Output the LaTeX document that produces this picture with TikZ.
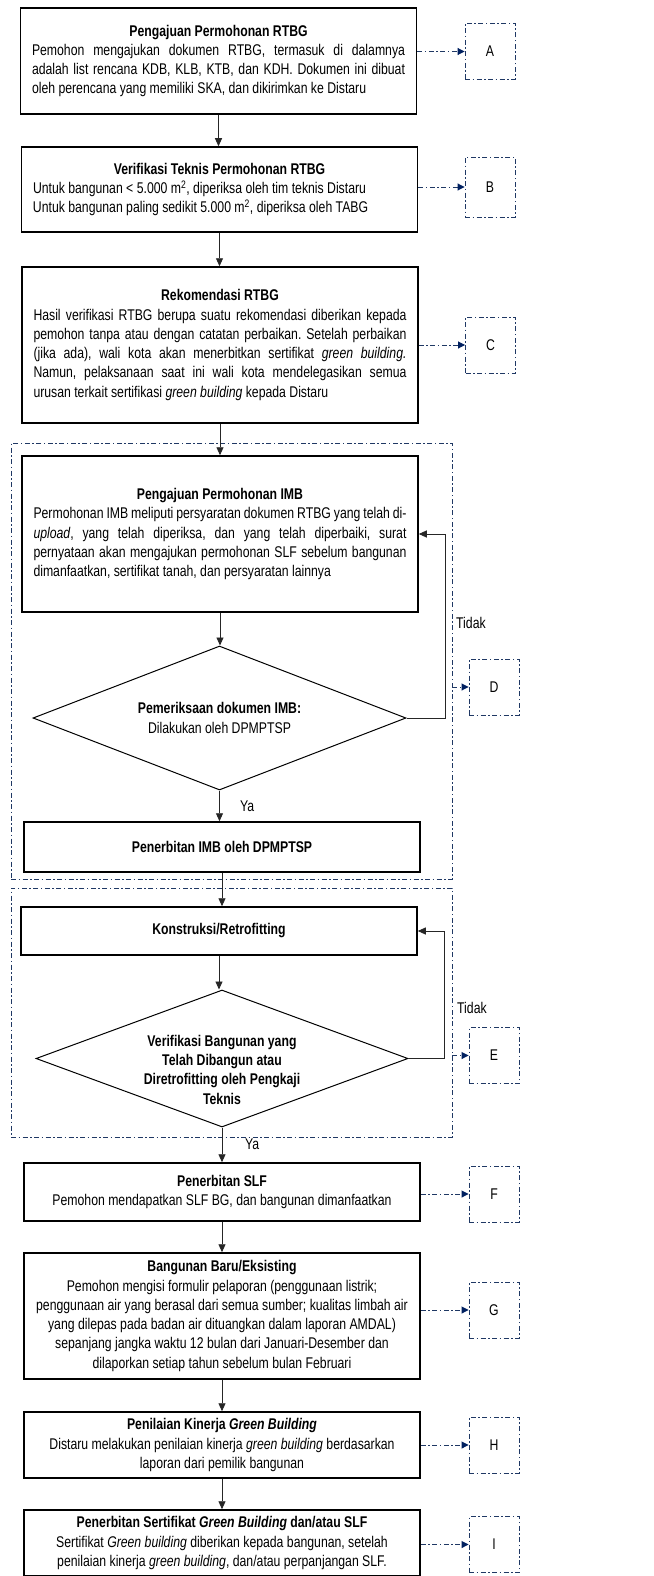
\documentclass[tikz,border=0pt]{standalone}
\usepackage{fontspec}
\setmainfont{Liberation Sans}[FakeStretch=0.79]
\usetikzlibrary{shapes.geometric,arrows.meta}
\definecolor{navy}{RGB}{31,56,100}
\definecolor{navytip}{RGB}{0,32,96}
\setlength{\parindent}{0pt}
\frenchspacing
\tikzset{
  txt/.style={font=\fontsize{15.5}{19.3}\selectfont},
  navydash/.style={dash pattern=on 5pt off 2.5pt on 1.5pt off 2.5pt},
  box/.style={txt, draw=black, line width=1.5pt, fill=white, inner xsep=11.5pt, inner ysep=0pt, text width=373pt, minimum width=396pt},
  dia/.style={diamond, draw=black, line width=1pt, fill=white, inner sep=0pt},
  sbox/.style={txt, draw=navy, line width=0.9pt, navydash, minimum width=50pt, minimum height=56pt, inner sep=0pt},
  cont/.style={draw=navy, line width=0.9pt, navydash, inner sep=0pt},
  arr/.style={draw=black!85, line width=0.9pt, -{Triangle[length=8pt,width=7pt]}},
  narr/.style={draw=navy, line width=0.9pt, navydash, -{Triangle[length=7pt,width=7pt,fill=navytip,color=navytip]}},
  lbl/.style={txt, inner sep=0pt, anchor=west},
}
\begin{document}
\begin{tikzpicture}[x=1pt,y=-1pt]
\useasboundingbox (0,0) rectangle (653,1576);

% containers
\node[cont, minimum width=441pt, minimum height=436pt] (c1) at (231.5,661) {};
\node[cont, minimum width=441pt, minimum height=249pt] (c2) at (231.5,1012.5) {};

% main boxes
\node[box, align=justify, minimum height=106pt] (b1) at (218.5,61) {{\centering\bfseries Pengajuan Permohonan RTBG\par}Pemohon mengajukan dokumen RTBG, termasuk di dalamnya \linebreak adalah list rencana KDB, KLB, KTB, dan KDH. Dokumen ini dibuat \linebreak oleh perencana yang memiliki SKA, dan dikirimkan ke Distaru};

\node[box, align=flush left, minimum height=85pt] (b2) at (219.5,189.5) {{\centering\bfseries Verifikasi Teknis Permohonan RTBG\par}Untuk bangunan < 5.000 m\textsuperscript{2}, diperiksa oleh tim teknis Distaru\\Untuk bangunan paling sedikit 5.000 m\textsuperscript{2}, diperiksa oleh TABG};

\node[box, align=justify, minimum height=156pt] (b3) at (220,345) {{\centering\bfseries Rekomendasi RTBG\par}Hasil verifikasi RTBG berupa suatu rekomendasi diberikan kepada \linebreak pemohon tanpa atau dengan catatan perbaikan. Setelah perbaikan \linebreak (jika ada), wali kota akan menerbitkan sertifikat \textit{green building.} \linebreak Namun, pelaksanaan saat ini wali kota mendelegasikan semua \linebreak urusan terkait sertifikasi \textit{green building} kepada Distaru};

\node[box, align=justify, minimum height=156pt] (b4) at (220,534) {{\centering\bfseries Pengajuan Permohonan IMB\par}Permohonan IMB meliputi persyaratan dokumen RTBG yang telah di-\linebreak \textit{upload}, yang telah diperiksa, dan yang telah diperbaiki, surat \linebreak pernyataan akan mengajukan permohonan SLF sebelum bangunan \linebreak dimanfaatkan, sertifikat tanah, dan persyaratan lainnya};

\node[dia, minimum width=373pt, minimum height=144pt] (d1) at (219.5,718) {};
\node[txt, align=flush center, inner sep=0pt] (d1t) at (d1.center) {\textbf{Pemeriksaan dokumen IMB:}\\Dilakukan oleh DPMPTSP};

\node[box, align=flush center, minimum height=50pt] (b5) at (222,847) {\bfseries Penerbitan IMB oleh DPMPTSP};

\node[box, align=flush center, minimum height=48pt] (b6) at (219,931) {\bfseries Konstruksi/Retrofitting};

\node[dia, minimum width=372pt, minimum height=137pt] (d2) at (222,1058.5) {};
\node[txt, align=flush center, inner sep=0pt] (d2t) at ([yshift=-11pt]d2.center) {\bfseries Verifikasi Bangunan yang\\\bfseries Telah Dibangun atau\\\bfseries Diretrofitting oleh Pengkaji\\\bfseries Teknis};

\node[box, align=flush center, minimum height=58pt] (b7) at (222,1192) {\textbf{Penerbitan SLF}\\Pemohon mendapatkan SLF BG, dan bangunan dimanfaatkan};

\node[box, align=flush center, minimum height=126pt] (b8) at (222,1316) {\textbf{Bangunan Baru/Eksisting}\\Pemohon mengisi formulir pelaporan (penggunaan listrik;\\penggunaan air yang berasal dari semua sumber; kualitas limbah air\\yang dilepas pada badan air dituangkan dalam laporan AMDAL)\\sepanjang jangka waktu 12 bulan dari Januari-Desember dan\\dilaporkan setiap tahun sebelum bulan Februari};

\node[box, align=flush center, minimum height=66pt] (b9) at (222,1445) {\textbf{Penilaian Kinerja \textit{Green Building}}\\Distaru melakukan penilaian kinerja \textit{green building} berdasarkan\\laporan dari pemilik bangunan};

\node[box, align=flush center, minimum height=66pt] (b10) at (222,1543) {\textbf{Penerbitan Sertifikat \textit{Green Building} dan/atau SLF}\\Sertifikat \textit{Green building} diberikan kepada bangunan, setelah\\penilaian kinerja \textit{green building}, dan/atau perpanjangan SLF.};

% side boxes
\node[sbox] (A) at (490,51.5) {A};
\node[sbox, minimum height=60pt] (B) at (490,187) {B};
\node[sbox] (C) at (490.5,345) {C};
\node[sbox] (D) at (494,687) {D};
\node[sbox] (E) at (494,1055.5) {E};
\node[sbox] (F) at (494,1194) {F};
\node[sbox] (G) at (494,1310) {G};
\node[sbox] (H) at (494,1445) {H};
\node[sbox] (I) at (494,1544.5) {I};

% labels
\node[lbl] (t1) at (456,623) {Tidak};
\node[lbl] (t2) at (457,1008) {Tidak};
\node[lbl] (y1) at (240,806) {Ya};
\node[lbl] (y2) at (245,1144) {Ya};

% black connectors
\draw[arr] (b1.south) -- (b1.south |- b2.north);
\draw[arr] (b2.south) -- (b2.south |- b3.north);
\draw[arr] (b3.south) -- (b3.south |- b4.north);
\draw[arr] (b4.south) -- (b4.south |- d1.north);
\draw[arr] (d1.south) -- (d1.south |- b5.north);
\draw[arr] (b5.south) -- (b5.south |- b6.north);
\draw[arr] (b6.south) -- (b6.south |- d2.north);
\draw[arr] (d2.south) -- (d2.south |- b7.north);
\draw[arr] (b7.south) -- (b7.south |- b8.north);
\draw[arr] (b8.south) -- (b8.south |- b9.north);
\draw[arr] (b9.south) -- (b9.south |- b10.north);
\draw[arr] (d1.east) -| ([xshift=27pt]b4.east) -- (b4.east);
\draw[arr] (d2.east) -| ([xshift=27pt]b6.east) -- (b6.east);

% navy connectors
\draw[narr] (A.west -| b1.east) -- (A.west);
\draw[narr] (B.west -| b2.east) -- (B.west);
\draw[narr] (C.west -| b3.east) -- (C.west);
\draw[narr] (D.west -| c1.east) -- (D.west);
\draw[narr] (E.west -| c2.east) -- (E.west);
\draw[narr] (F.west -| b7.east) -- (F.west);
\draw[narr] (G.west -| b8.east) -- (G.west);
\draw[narr] (H.west -| b9.east) -- (H.west);
\draw[narr] (I.west -| b10.east) -- (I.west);
\end{tikzpicture}
\end{document}
